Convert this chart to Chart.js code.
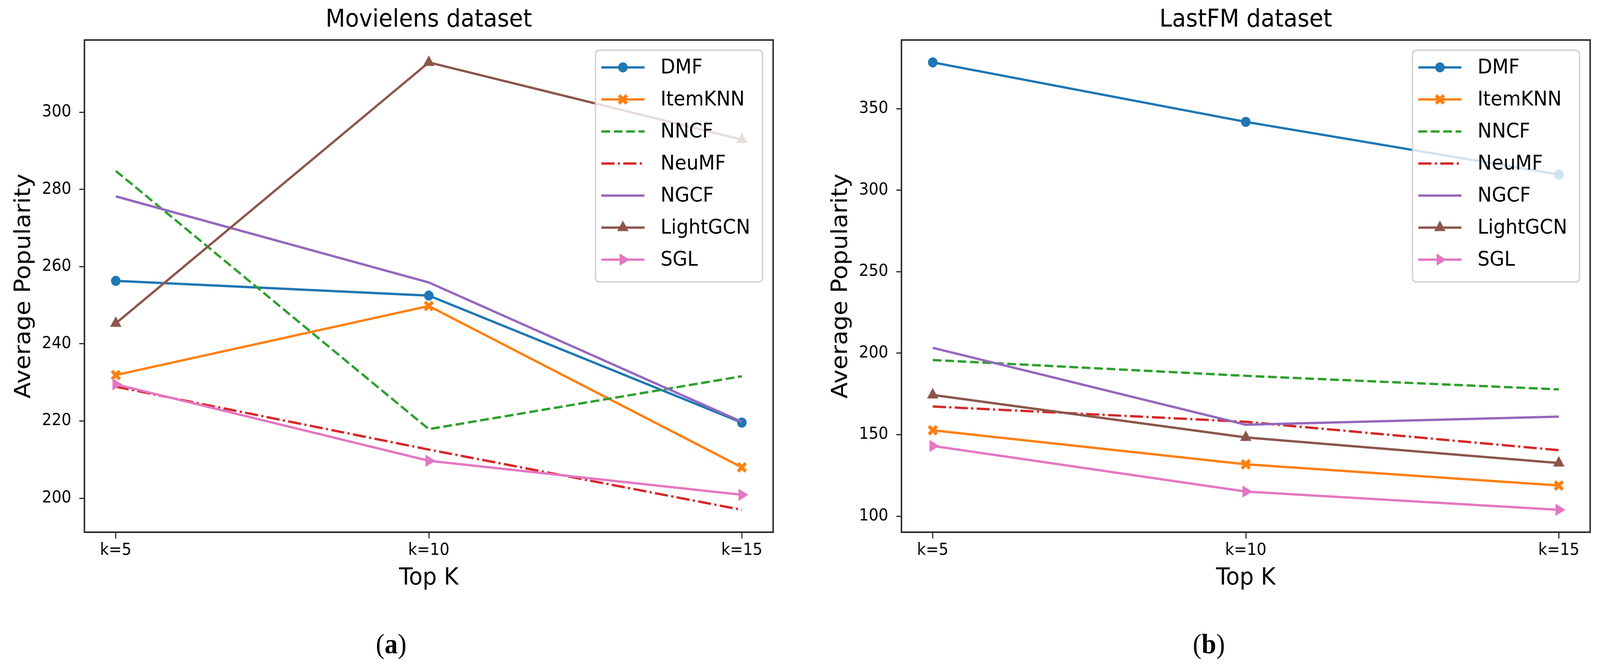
<!DOCTYPE html>
<html>
<head>
<meta charset="utf-8">
<title>Average Popularity - Movielens / LastFM</title>
<script src="https://cdn.jsdelivr.net/npm/chart.js@4.4.1/dist/chart.umd.min.js"></script>
<style>
  html, body { margin: 0; padding: 0; background: #fff; overflow: hidden; }
  #stage { position: absolute; left: 0; top: 0; width: 4377px; height: 1707px; transform-origin: 0 0; }
  .panel { position: absolute; top: 0; height: 1707px; }
  #leftPanel { left: 0; width: 2190px; }
  #rightPanel { left: 2190px; width: 2187px; }
  .caption {
    position: absolute; top: 1605px;
    font-family: "Liberation Serif", "DejaVu Serif", serif;
    font-size: 72px; line-height: 86px; color: #000;
    transform: translateX(-50%); white-space: nowrap;
  }
</style>
</head>
<body>
<div id="stage">
  <div class="panel" id="leftPanel"><canvas id="chartMovielens" width="2190" height="1707"></canvas></div>
  <div class="panel" id="rightPanel"><canvas id="chartLastFM" width="2187" height="1707"></canvas></div>
  <div class="caption" style="left:1070px">(<b>a</b>)</div>
  <div class="caption" style="left:3307px">(<b>b</b>)</div>
</div>

<script>
// ================== data ==================
const topK = ["k=5", "k=10", "k=15"];
const methods = ["DMF", "ItemKNN", "NNCF", "NeuMF", "NGCF", "LightGCN", "SGL"];

// Movielens (k=5, k=10, k=15)
const movDMF      = [256.3, 252.5, 219.6];
const movItemKNN  = [231.9, 249.8, 208.0];
const movNNCF     = [284.8, 217.9, 231.6];
const movNeuMF    = [228.9, 212.6, 197.0];
const movNGCF     = [278.2, 255.9, 219.8];
const movLightGCN = [245.3, 312.9, 292.9];
const movSGL      = [229.5, 209.7, 200.9];
const movTicks    = [200, 220, 240, 260, 280, 300];

// LastFM (k=5, k=10, k=15)
const fmDMF      = [378.4, 341.9, 309.6];
const fmItemKNN  = [152.7, 131.8, 118.8];
const fmNNCF     = [195.8, 186.1, 177.8];
const fmNeuMF    = [167.3, 157.9, 140.5];
const fmNGCF     = [203.3, 156.1, 161.1];
const fmLightGCN = [174.4, 148.3, 132.6];
const fmSGL      = [143.1, 115.1, 103.9];
const fmTicks    = [100, 150, 200, 250, 300, 350];

// ================== styles ==================
const FONT = "'DejaVu Sans', sans-serif";
const colors = ["#1f77b4", "#ff7f0e", "#2ca02c", "#d62728", "#9467bd", "#8c564b", "#e377c2"];
const dashes = [[], [], [24, 10], [36, 9, 6, 9], [], [], []];
const AXIS_COLOR = "#262626";

// fit the 4377x1707 stage into whatever the window really is
(function fitStage() {
  const stage = document.getElementById("stage");
  const sx = window.innerWidth / 4377;
  const sy = window.innerHeight / 1707;
  if (Math.abs(sx - 1) > 0.001 || Math.abs(sy - 1) > 0.001) {
    stage.style.transform = `scale(${sx}, ${sy})`;
  }
})();

// matplotlib 'X' marker (filled cross)
function makeXMarker(color, size) {
  const c = document.createElement("canvas");
  c.width = c.height = size;
  const g = c.getContext("2d");
  const s = size / 2, w = size * 0.15;
  g.translate(s, s);
  g.rotate(Math.PI / 4);
  g.fillStyle = color;
  g.fillRect(-s, -w, 2 * s, 2 * w);
  g.fillRect(-w, -s, 2 * w, 2 * s);
  return c;
}

const markers = [
  { style: "circle", r: 12, rot: 0 },
  { style: makeXMarker(colors[1], 30), r: 14, rot: 0 },
  { style: "circle", r: 0, rot: 0 },
  { style: "circle", r: 0, rot: 0 },
  { style: "circle", r: 0, rot: 0 },
  { style: "triangle", r: 16, rot: 0 },
  { style: "triangle", r: 16, rot: 90 },
];

function buildDatasets(series) {
  return methods.map((name, i) => ({
    label: name,
    data: series[i].map((v, k) => ({ x: k, y: v })),
    borderColor: colors[i],
    backgroundColor: colors[i],
    pointBackgroundColor: colors[i],
    pointBorderColor: colors[i],
    borderWidth: 6,
    borderDash: dashes[i],
    pointStyle: markers[i].style,
    pointRadius: markers[i].r,
    pointRotation: markers[i].rot,
    pointBorderWidth: 2,
    tension: 0,
    fill: false,
    order: methods.length - i, // later series on top, like matplotlib
  }));
}

// ================== plugins ==================
function roundRect(ctx, x, y, w, h, r) {
  ctx.beginPath();
  ctx.moveTo(x + r, y);
  ctx.lineTo(x + w - r, y);
  ctx.quadraticCurveTo(x + w, y, x + w, y + r);
  ctx.lineTo(x + w, y + h - r);
  ctx.quadraticCurveTo(x + w, y + h, x + w - r, y + h);
  ctx.lineTo(x + r, y + h);
  ctx.quadraticCurveTo(x, y + h, x, y + h - r);
  ctx.lineTo(x, y + r);
  ctx.quadraticCurveTo(x, y, x + r, y);
  ctx.closePath();
}

const frameAndLegend = {
  id: "frameAndLegend",
  afterDatasetsDraw(chart) {
    const ctx = chart.ctx;
    const { left, right, top, bottom } = chart.chartArea;
    ctx.save();

    // axes frame
    ctx.strokeStyle = AXIS_COLOR;
    ctx.lineWidth = 4;
    ctx.strokeRect(left, top, right - left, bottom - top);

    // legend box (white, alpha .8 like matplotlib)
    const bw = 457, bh = 593;
    const bx = right - 29 - bw, by = top + 26;
    roundRect(ctx, bx, by, bw, bh, 12);
    ctx.fillStyle = "rgba(255,255,255,0.8)";
    ctx.fill();
    ctx.strokeStyle = "rgba(204,204,204,0.85)";
    ctx.lineWidth = 4;
    ctx.stroke();

    chart.data.datasets.forEach((ds, i) => {
      const cy = by + 44 + i * 82;
      const x0 = bx + 16, x1 = bx + 134;
      ctx.setLineDash(ds.borderDash || []);
      ctx.strokeStyle = ds.borderColor;
      ctx.lineWidth = ds.borderWidth;
      ctx.beginPath();
      ctx.moveTo(x0, cy);
      ctx.lineTo(x1, cy);
      ctx.stroke();
      ctx.setLineDash([]);

      if (ds.pointRadius > 0) {
        ctx.fillStyle = ds.pointBackgroundColor;
        ctx.strokeStyle = ds.pointBorderColor;
        ctx.lineWidth = ds.pointBorderWidth;
        Chart.helpers.drawPoint(ctx, {
          pointStyle: ds.pointStyle,
          rotation: ds.pointRotation || 0,
          radius: ds.pointRadius,
          borderWidth: ds.pointBorderWidth,
        }, (x0 + x1) / 2, cy);
      }

      ctx.fillStyle = "#000";
      ctx.font = "52px " + FONT;
      ctx.textAlign = "left";
      ctx.textBaseline = "middle";
      ctx.fillText(ds.label, bx + 178, cy + 2);
    });
    ctx.restore();
  },
};

// ================== chart ==================
function paddedRange(series) {
  const all = series.flat();
  const lo = Math.min(...all), hi = Math.max(...all);
  const m = (hi - lo) * 0.05;
  return { min: lo - m, max: hi + m };
}

function makeChart(canvasId, title, series, yTicks, padLeft, padRight) {
  const range = paddedRange(series);
  const tickGrid = {
    display: true, drawOnChartArea: false, drawTicks: true,
    color: AXIS_COLOR, lineWidth: 3,
  };
  return new Chart(document.getElementById(canvasId), {
    type: "line",
    data: { datasets: buildDatasets(series) },
    plugins: [frameAndLegend],
    options: {
      responsive: false,
      animation: false,
      devicePixelRatio: 1,
      layout: { padding: { left: padLeft, right: padRight, top: 0, bottom: 185 } },
      plugins: {
        legend: { display: false },
        tooltip: { enabled: false },
        title: {
          display: true, text: title, fullSize: false, color: "#000",
          font: { family: FONT, size: 62, weight: "normal" },
          padding: { top: 15, bottom: 13 },
        },
      },
      scales: {
        x: {
          type: "linear", min: -0.1, max: 2.1,
          afterBuildTicks: (s) => { s.ticks = topK.map((_, i) => ({ value: i })); },
          afterFit: (s) => { s.height = 160; },
          ticks: {
            callback: (v) => topK[v],
            color: "#000", padding: 6, maxRotation: 0, autoSkip: false,
            font: { family: FONT, size: 42 },
          },
          grid: { ...tickGrid, tickLength: 16 },
          border: { display: false },
          title: {
            display: true, text: "Top K", color: "#000",
            font: { family: FONT, size: 61 },
            padding: { top: 0, bottom: 5 },
          },
        },
        y: {
          type: "linear", min: range.min, max: range.max,
          afterBuildTicks: (s) => { s.ticks = yTicks.map((v) => ({ value: v })); },
          afterFit: (s) => { s.width = 231; },
          ticks: { color: "#000", padding: 22, font: { family: FONT, size: 42 } },
          grid: { ...tickGrid, tickLength: 14 },
          border: { display: false },
          title: {
            display: true, text: "Average Popularity", color: "#000",
            font: { family: FONT, size: 61 },
            padding: { top: 30, bottom: 0 },
          },
        },
      },
    },
  });
}

makeChart("chartMovielens", "Movielens dataset",
  [movDMF, movItemKNN, movNNCF, movNeuMF, movNGCF, movLightGCN, movSGL], movTicks, 0, 75);
makeChart("chartLastFM", "LastFM dataset",
  [fmDMF, fmItemKNN, fmNNCF, fmNeuMF, fmNGCF, fmLightGCN, fmSGL], fmTicks, 45, 27);
</script>
</body>
</html>
